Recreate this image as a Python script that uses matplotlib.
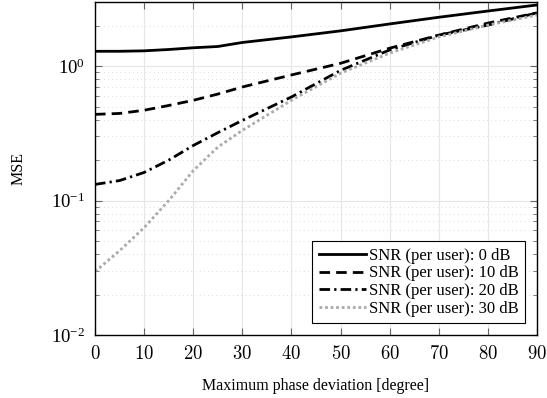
import matplotlib
matplotlib.use("Agg")
import matplotlib.pyplot as plt
import numpy as np

plt.rcParams['mathtext.fontset'] = 'cm'
plt.rcParams['font.family'] = ['Liberation Serif', 'DejaVu Serif']

# phase deviation [degree]
deg = [0, 5, 10, 15, 20, 25, 30, 40, 50, 60, 70, 80, 90]
mse_0db = [1.29, 1.29, 1.30, 1.33, 1.37, 1.40, 1.50, 1.65, 1.83, 2.06, 2.31, 2.57, 2.85]
mse_10db = [0.438, 0.445, 0.47, 0.51, 0.557, 0.62, 0.70, 0.86, 1.05, 1.36, 1.70, 2.09, 2.49]
mse_20db = [0.132, 0.141, 0.162, 0.20, 0.257, 0.32, 0.395, 0.59, 0.93, 1.32, 1.70, 2.02, 2.49]
mse_30db = [0.0297, 0.0424, 0.063, 0.10, 0.167, 0.25, 0.333, 0.557, 0.887, 1.25, 1.65, 2.02, 2.40]
labels = ['SNR (per user): 0 dB', 'SNR (per user): 10 dB',
          'SNR (per user): 20 dB', 'SNR (per user): 30 dB']

fig = plt.figure(figsize=(5.47, 3.98), dpi=100)
ax = fig.add_axes([0.1737, 0.158, 0.808, 0.837])

ax.plot(deg, mse_0db, color='black', lw=2.0, ls='-', label=labels[0])
ax.plot(deg, mse_10db, color='black', lw=2.0, ls=(0, (3.8, 2.2)), label=labels[1])
ax.plot(deg, mse_20db, color='black', lw=2.0, ls=(0, (3.8, 1.5, 0.8, 1.5)), label=labels[2])
ax.plot(deg, mse_30db, color='#aaaaaa', lw=2.0, ls=(0, (1, 1)), label=labels[3])

ax.set_yscale('log')
ax.set_xlim(0, 90)
ax.set_ylim(0.01, 3)
ax.set_xticks(np.arange(0, 91, 10))
ax.set_xticklabels([r'$%d$' % v for v in range(0, 91, 10)])

ax.grid(which='major', color='#e6e6e6', lw=0.8, ls='-')
ax.grid(which='minor', axis='y', color='#d0d0d0', lw=0.6, ls=(0, (1, 4)))
ax.set_axisbelow(True)

ax.tick_params(which='both', direction='in', top=True, right=True, color='#666666', labelsize=13.5)
ax.tick_params(which='major', length=5)
ax.tick_params(which='minor', length=3)
ax.tick_params(axis='x', which='major', pad=7)
ax.tick_params(axis='y', which='major', pad=7)
ax.tick_params(axis='x', which='minor', bottom=False, top=False)
for s in ax.spines.values():
    s.set_linewidth(1.0)

ax.set_xlabel('Maximum phase deviation [degree]', fontsize=11.5, labelpad=11)
ax.set_ylabel('MSE', fontsize=11.5, labelpad=18)

leg = ax.legend(loc='lower right', fontsize=12, fancybox=False, framealpha=1,
                edgecolor='black', handlelength=2.8, handletextpad=0.2,
                labelspacing=0.1, borderaxespad=0.7, borderpad=0.4)
leg.get_frame().set_linewidth(0.8)

fig.savefig('out.png', dpi=100)
